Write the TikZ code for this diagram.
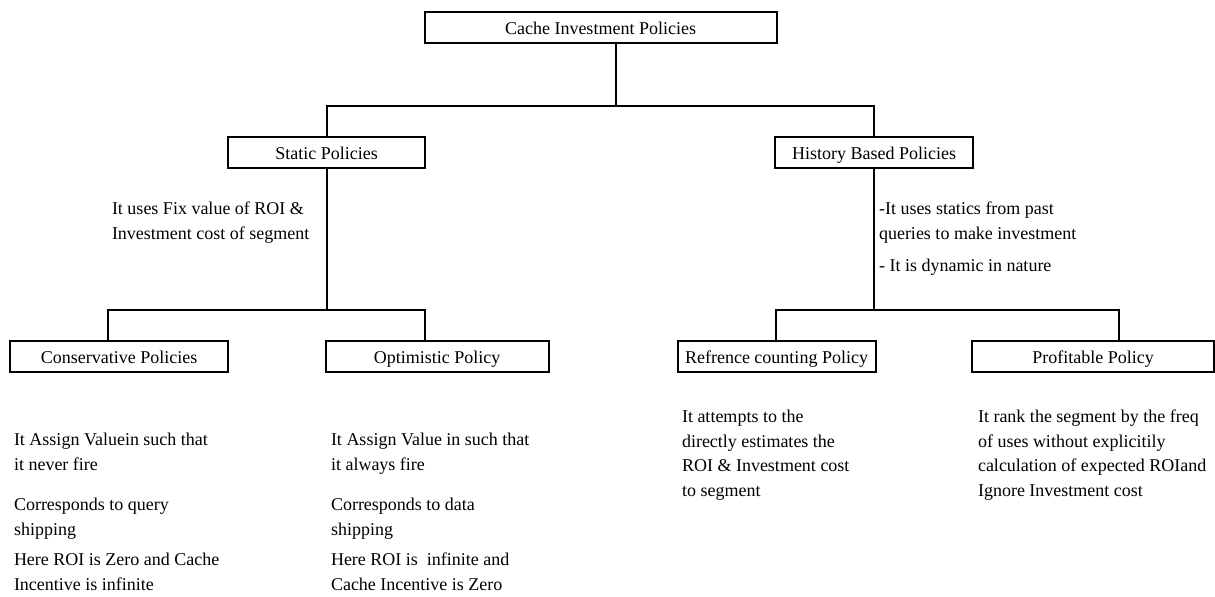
\documentclass[tikz,border=0pt]{standalone}
\usepackage{fontspec}
\setmainfont{Liberation Serif}
\usetikzlibrary{positioning}

\tikzset{
    policy/.style={draw, line width=1pt, inner sep=0pt, minimum height=15.5pt, text height=6.5pt, text depth=0pt, font=\fontsize{9}{12.25}\selectfont},
    note/.style={anchor=base west, align=left, inner sep=0pt, font=\fontsize{9}{12.25}\selectfont},
}

\begin{document}
\begin{tikzpicture}[x=0.5pt, y=-0.5pt, line width=1pt]
    \useasboundingbox (0,0) rectangle (1215,596);

    \node[policy, minimum width=176pt] (cache) at (600.5,27.5) {Cache Investment Policies};
    \node[policy, minimum width=98.5pt] (static) at (326.5,152.5) {Static Policies};
    \node[policy, minimum width=99pt] (history) at (874,152.5) {History Based Policies};
    \node[policy, minimum width=109pt] (cons) at (119,356.5) {Conservative Policies};
    \node[policy, minimum width=111.5pt] (opt) at (437,356.5) {Optimistic Policy};
    \node[policy, minimum width=99pt] (ref) at (776.5,356.5) {Refrence counting Policy};
    \node[policy, minimum width=121pt] (prof) at (1093,356.5) {Profitable Policy};

    \coordinate (top) at (616,106);
    \coordinate (sl) at (108,310);
    \coordinate (sr) at (425,310);
    \coordinate (hl) at (776,310);
    \coordinate (hr) at (1119,310);

    \draw (cache.south -| top) -- (top);
    \draw (static.north) |- (top) -| (history.north);
    \draw (static.south) -- (static.south |- sl);
    \draw (cons.north -| sl) -- (sl) -- (sr) -- (opt.north -| sr);
    \draw (history.south) -- (history.south |- hl);
    \draw (ref.north -| hl) -- (hl) -- (hr) -- (prof.north -| hr);

    \node[note] (staticnote) at (111,239) {It uses Fix value of ROI \&\\Investment cost of segment};
    \node[note] (historynote) at (878,239) {-It uses statics from past\\queries to make investment};
    \node[note] (historynote2) at (878,271) {- It is dynamic in nature};

    \node[note] (cons1) at (13,470) {It Assign Valuein such that\\it never fire};
    \node[note] (cons2) at (13,535) {Corresponds to query\\shipping};
    \node[note] (cons3) at (13,590) {Here ROI is Zero and Cache\\Incentive is infinite};

    \node[note] (opt1) at (330,470) {It Assign Value in such that\\it always fire};
    \node[note] (opt2) at (330,535) {Corresponds to data\\shipping};
    \node[note] (opt3) at (330,590) {Here ROI is\ \ infinite and\\Cache Incentive is Zero};

    \node[note] (refnote) at (681,496) {It attempts to the\\directly estimates the\\ROI \& Investment cost\\to segment};
    \node[note] (profnote) at (977,496) {It rank the segment by the freq\\of uses without explicitily\\calculation of expected ROIand\\Ignore Investment cost};
\end{tikzpicture}
\end{document}
